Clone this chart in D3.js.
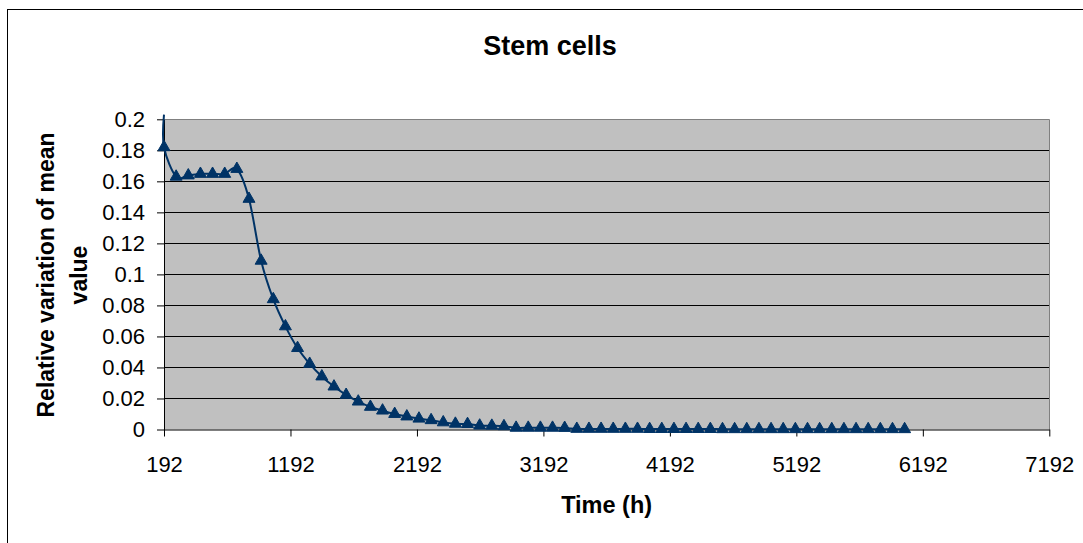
<!DOCTYPE html>
<html>
<head>
<meta charset="utf-8">
<script src="https://cdn.jsdelivr.net/npm/d3@7"></script>
<style>
  html, body { margin: 0; padding: 0; background: #fff; }
  svg { display: block; font-family: "Liberation Sans", Arial, sans-serif; }
</style>
</head>
<body>
<svg id="chart" width="1083" height="543"></svg>
<script>
// ---- data ----
const startTime = 192;
const stepHours = 96;
const values = [
  0.182, 0.163, 0.1638, 0.1648, 0.1648, 0.1648, 0.168, 0.1487, 0.1088, 0.0840,
  0.0665, 0.0525, 0.0423, 0.0342, 0.0277, 0.0223, 0.0180, 0.0146, 0.0122, 0.0100,
  0.0084, 0.0070, 0.0060, 0.0046, 0.0037, 0.0035, 0.0025, 0.0024, 0.0021, 0.0011,
  0.0011, 0.0011, 0.0011, 0.0010, 0.0004, 0.0004, 0.0004, 0.0004, 0.0004, 0.0004,
  0.0003, 0.0003, 0.0003, 0.0003, 0.0003, 0.0003, 0.0002, 0.0002, 0.0002, 0.0002,
  0.0002, 0.0002, 0.0002, 0.0002, 0.0002, 0.0002, 0.0002, 0.0002, 0.0002, 0.0002,
  0.0002, 0.0002
];
const times = values.map((v, i) => startTime + stepHours * i);
// the line starts above the axis maximum at t = 192 (clipped just above the plot)
const leadTime = 192;
const leadValue = 0.203;

const xTicks = [192, 1192, 2192, 3192, 4192, 5192, 6192, 7192];
const yTicks = [0, 0.02, 0.04, 0.06, 0.08, 0.1, 0.12, 0.14, 0.16, 0.18, 0.2];
const yTickLabels = ["0", "0.02", "0.04", "0.06", "0.08", "0.1", "0.12", "0.14", "0.16", "0.18", "0.2"];

const title = "Stem cells";
const xTitle = "Time (h)";
const yTitleLines = ["Relative variation of mean", "value"];

// ---- layout ----
const svg = d3.select("#chart");
const plot = { left: 164, right: 1049.3, top: 119.3, bottom: 429.5 };
const navy = "#003366";

const x = d3.scaleLinear().domain([192, 7192]).range([plot.left, plot.right]);
const y = d3.scaleLinear().domain([0, 0.2]).range([plot.bottom, plot.top]);

// outer chart border (extends beyond the visible frame on right/bottom)
svg.append("rect")
  .attr("x", 7.5).attr("y", 9.5).attr("width", 1200).attr("height", 700)
  .attr("fill", "#fff").attr("stroke", "#000").attr("stroke-width", 1);

// plot area background
svg.append("rect")
  .attr("x", plot.left).attr("y", plot.top)
  .attr("width", plot.right - plot.left).attr("height", plot.bottom - plot.top)
  .attr("fill", "#C0C0C0");

// gridlines
svg.append("g").selectAll("line")
  .data(yTicks.filter(d => d > 0 && d < 0.2))
  .join("line")
  .attr("x1", plot.left).attr("x2", plot.right)
  .attr("y1", d => Math.round(y(d)) + 0.5).attr("y2", d => Math.round(y(d)) + 0.5)
  .attr("stroke", "#000").attr("stroke-width", 1);

// plot border (grey) top and right
svg.append("path")
  .attr("d", `M${plot.left},${Math.round(plot.top) + 0.5}H${Math.round(plot.right) + 0.5}V${plot.bottom}`)
  .attr("fill", "none").attr("stroke", "#808080").attr("stroke-width", 1);

// axes
const yAxis = d3.axisLeft(y).tickValues(yTicks)
  .tickFormat((d, i) => yTickLabels[i]).tickSize(7).tickSizeOuter(0).tickPadding(12);
const gy = svg.append("g").attr("transform", `translate(${plot.left},0)`).call(yAxis);
gy.selectAll("text").attr("font-size", 22).attr("fill", "#000")
  .attr("font-family", "'Liberation Sans', Arial, sans-serif");
gy.selectAll("line, path").attr("stroke", "#000");

const xAxis = d3.axisBottom(x).tickValues(xTicks).tickFormat(d3.format("d"))
  .tickSize(7).tickSizeOuter(0).tickPadding(20);
const gx = svg.append("g").attr("transform", `translate(0,${plot.bottom})`).call(xAxis);
gx.selectAll("text").attr("font-size", 22).attr("fill", "#000").attr("dy", "0.71em")
  .attr("font-family", "'Liberation Sans', Arial, sans-serif");
gx.selectAll("line, path").attr("stroke", "#000");

// series line (smoothed)
const lineData = [[leadTime, leadValue]].concat(times.map((t, i) => [t, values[i]]));
const line = d3.line()
  .x(d => x(d[0])).y(d => y(d[1]))
  .curve(d3.curveCardinal.tension(0));
svg.append("path")
  .datum(lineData)
  .attr("d", line)
  .attr("fill", "none")
  .attr("stroke", navy)
  .attr("stroke-width", 2);

// triangle markers
const tri = d3.symbol().type(d3.symbolTriangle).size(62);
svg.append("g").selectAll("path")
  .data(times.map((t, i) => [t, values[i]]))
  .join("path")
  .attr("transform", d => `translate(${x(d[0])},${y(d[1])})`)
  .attr("d", tri)
  .attr("fill", navy)
  .attr("stroke", navy)
  .attr("stroke-width", 1);

// titles
svg.append("text")
  .attr("x", 550).attr("y", 55)
  .attr("text-anchor", "middle")
  .attr("font-size", 27).attr("font-weight", "bold")
  .text(title);

svg.append("text")
  .attr("x", (plot.left + plot.right) / 2).attr("y", 512.5)
  .attr("text-anchor", "middle")
  .attr("font-size", 23.5).attr("font-weight", "bold")
  .text(xTitle);

const yTitleX = [53.5, 87];
yTitleLines.forEach((t, i) => {
  svg.append("text")
    .attr("transform", `translate(${yTitleX[i]},275) rotate(-90)`)
    .attr("text-anchor", "middle")
    .attr("font-size", 23).attr("font-weight", "bold")
    .text(t);
});
</script>
</body>
</html>
